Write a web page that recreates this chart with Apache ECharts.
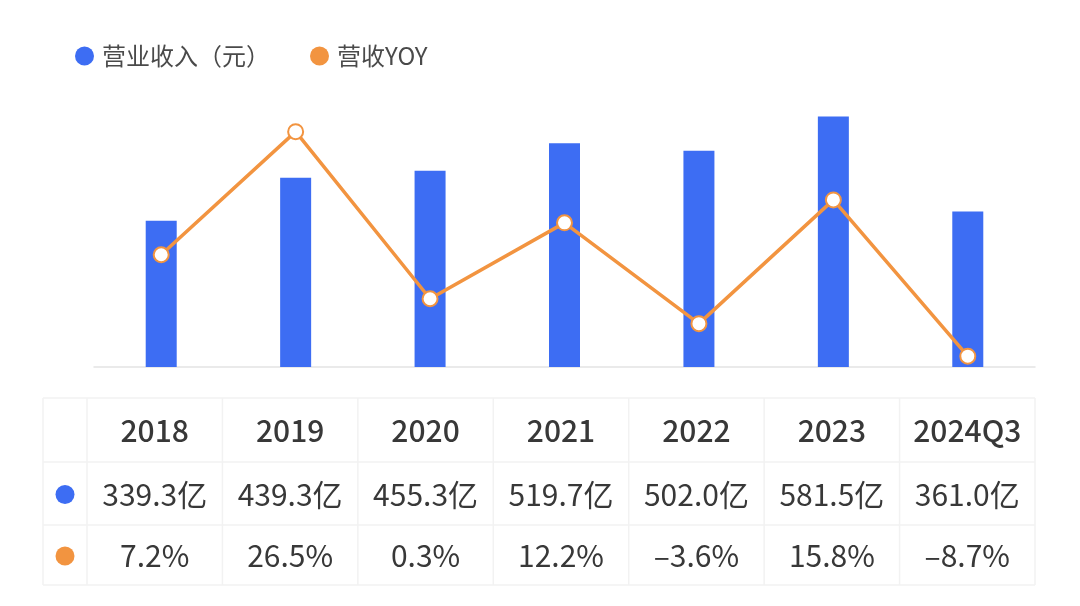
<!DOCTYPE html>
<html>
<head>
<meta charset="utf-8">
<title>营业收入与营收YOY</title>
<script src="https://cdn.jsdelivr.net/npm/echarts@6/dist/echarts.min.js"></script>
<style>
    html, body { margin: 0; padding: 0; background: #fff; }
    #main { width: 1080px; height: 606px; }
</style>
</head>
<body>
<div id="main"></div>
<script>
// 数据
const categories = ['2018', '2019', '2020', '2021', '2022', '2023', '2024Q3']
const revenue = [339.3, 439.3, 455.3, 519.7, 502.0, 581.5, 361.0] // 亿元
const yoy = [7.2, 26.5, 0.3, 12.2, -3.6, 15.8, -8.7] // %

const BLUE = '#3d6df3'
const ORANGE = '#f29440'
const FONT = '"Noto Sans CJK SC", "Noto Sans", sans-serif'

// 表格的布局
const tableLeft = 43
const tableRight = 1035
const firstCol = 44
const rowTops = [398, 462, 525, 585]
const colW = (tableRight - tableLeft - firstCol) / categories.length

const fmtRevenue = v => v.toFixed(1) + '亿'
const fmtYoy = v => (v < 0 ? '\u2013' + Math.abs(v).toFixed(1) : v.toFixed(1)) + '%'

function buildTable() {
    const els = []
    const lineStyle = { stroke: '#f2f2f2', lineWidth: 1.5 }
    // 横线
    rowTops.forEach(y => {
        els.push({ type: 'line', shape: { x1: tableLeft, y1: y, x2: tableRight, y2: y }, style: lineStyle })
    })
    // 竖线
    for (let i = 0; i <= categories.length + 1; i++) {
        const x = i === 0 ? tableLeft : tableLeft + firstCol + colW * (i - 1)
        els.push({ type: 'line', shape: { x1: x, y1: rowTops[0], x2: x, y2: rowTops[3] }, style: lineStyle })
    }
    const rows = [
        { texts: categories, font: '500 30px ' },
        { texts: revenue.map(fmtRevenue), font: '400 30px ', dot: BLUE },
        { texts: yoy.map(fmtYoy), font: '400 30px ', dot: ORANGE }
    ]
    rows.forEach((row, r) => {
        const cy = (rowTops[r] + rowTops[r + 1]) / 2 + 1
        if (row.dot) {
            els.push({ type: 'circle', shape: { cx: tableLeft + firstCol / 2, cy: cy, r: 9.5 }, style: { fill: row.dot } })
        }
        row.texts.forEach((t, i) => {
            els.push({
                type: 'text',
                x: tableLeft + firstCol + colW * (i + 0.5),
                y: cy,
                style: {
                    text: t,
                    fill: '#383838',
                    font: row.font + FONT,
                    align: 'center',
                    verticalAlign: 'middle'
                }
            })
        })
    })
    return els
}

const chart = echarts.init(document.getElementById('main'))

const option = {
    backgroundColor: '#fff',
    animation: false,
    legend: {
        left: 70,
        top: 39,
        icon: 'circle',
        itemWidth: 19,
        itemHeight: 19,
        itemGap: 40,
        textStyle: { fontSize: 24, color: '#4a4a4a', fontFamily: FONT, padding: [0, 0, 0, 3] },
        data: [
            { name: '营业收入（元）', itemStyle: { color: BLUE } },
            { name: '营收YOY', itemStyle: { color: ORANGE, borderWidth: 0 } }
        ]
    },
    grid: { left: 94, right: 45, top: 87, bottom: 239 },
    xAxis: {
        type: 'category',
        data: categories,
        axisLine: { lineStyle: { color: '#e4e4e4', width: 1.5 } },
        axisTick: { show: false },
        axisLabel: { show: false }
    },
    yAxis: [
        { type: 'value', min: 0, max: 650, show: false, splitLine: { show: false } },
        { type: 'value', min: -10.4, max: 33.5, show: false, splitLine: { show: false } }
    ],
    series: [
        {
            name: '营业收入（元）',
            type: 'bar',
            data: revenue,
            barWidth: 31,
            itemStyle: { color: BLUE }
        },
        {
            name: '营收YOY',
            type: 'line',
            yAxisIndex: 1,
            data: yoy,
            symbol: 'circle',
            symbolSize: 15,
            lineStyle: { color: ORANGE, width: 3.5 },
            itemStyle: { color: '#fff', borderColor: ORANGE, borderWidth: 2 },
            z: 3
        }
    ],
    graphic: buildTable()
}

chart.setOption(option)
</script>
</body>
</html>
